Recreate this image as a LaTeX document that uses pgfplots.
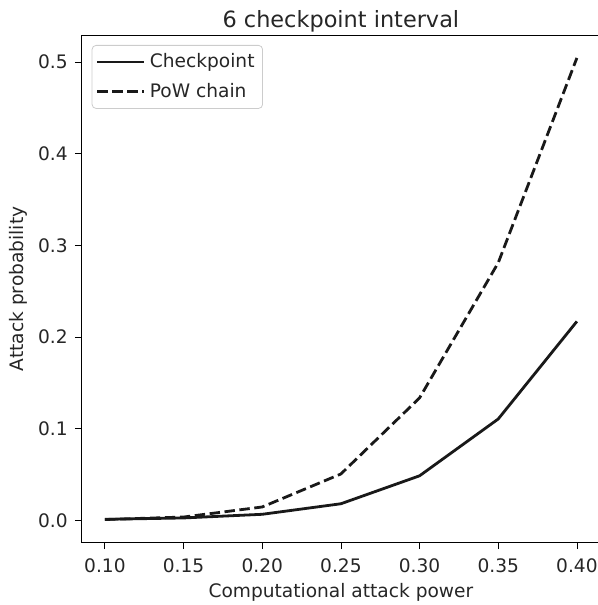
\documentclass[border=0pt]{standalone}
\usepackage{fontspec}
\setmainfont{DejaVu Sans}
\usepackage{pgfplots}
\pgfplotsset{compat=1.18}
\begin{document}
\begin{tikzpicture}
\begin{axis}[
  name=ax,
  scale only axis,
  width=259.6pt, height=253.7pt,
  xmin=0.085, xmax=0.415,
  ymin=-0.0245, ymax=0.5292,
  xtick={0.10,0.15,0.20,0.25,0.30,0.35,0.40},
  ytick={0,0.1,0.2,0.3,0.4,0.5},
  xticklabel style={yshift=-1pt, /pgf/number format/.cd,fixed,fixed zerofill,precision=2},
  yticklabel style={/pgf/number format/.cd,fixed,fixed zerofill,precision=1},
  /pgf/number format/assume math mode=true,
  tick align=outside,
  major tick length=3.25pt,
  tick style={black, line width=0.4pt},
  axis line style={black, line width=0.4pt},
  xtick pos=bottom, ytick pos=left,
  ticklabel style={font=\fontsize{9.3pt}{11pt}\selectfont, text=black!85},
  label style={font=\fontsize{9.3pt}{11pt}\selectfont, text=black!85},
  xlabel={Computational attack power},
  ylabel={Attack probability},
  xlabel style={at={(0.5,0)}, anchor=base, yshift=-27.3pt},
  ylabel style={at={(0,0.5)}, anchor=center, yshift=31.6pt},
  every axis title shift=0pt,
  title={6 checkpoint interval},
  title style={at={(0.5,1)}, anchor=base, yshift=4pt, font=\fontsize{11.2pt}{13pt}\selectfont, text=black!85},
  legend style={at={(0,1)}, anchor=north west, xshift=5.2pt, yshift=-4.85pt,
    draw=black!20, rounded corners=2pt, fill=white, fill opacity=0.8, text opacity=1,
    font=\fontsize{9.3pt}{11pt}\selectfont, text=black!85,
    inner xsep=2pt, inner ysep=2pt, row sep=2.4pt},
  legend cell align=left,
  legend image code/.code={\draw[#1] (0pt,0pt) -- (20pt,0pt); \path (0pt,0pt) -- (23.5pt,0pt);},
]
\addplot[black!90, line width=1.4pt] coordinates {
 (0.10,0.001) (0.15,0.0025) (0.20,0.0065) (0.25,0.018) (0.30,0.0485) (0.35,0.1105) (0.40,0.217)
};
\addlegendentry{Checkpoint}
\addplot[black!90, line width=1.4pt, dash pattern=on 5.2pt off 2.3pt] coordinates {
 (0.10,0.0008) (0.15,0.0035) (0.20,0.0145) (0.25,0.0505) (0.30,0.1335) (0.35,0.281) (0.40,0.5045)
};
\addlegendentry{PoW chain}
\end{axis}
\pgfresetboundingbox
\path ([shift={(-40.65pt,-31.15pt)}]ax.south west) rectangle ([shift={(-1.25pt,17.65pt)}]ax.north east);
\end{tikzpicture}
\end{document}
